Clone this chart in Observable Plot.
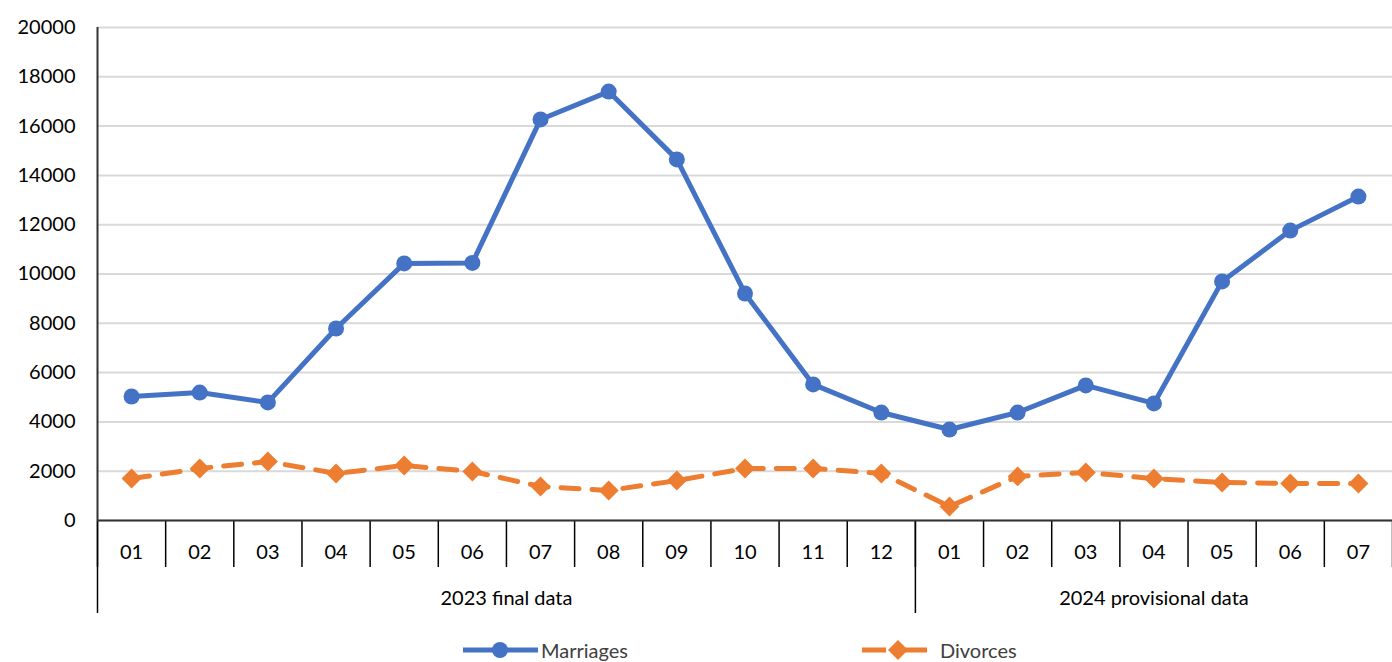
<!DOCTYPE html>
<html>
<head>
<meta charset="utf-8">
<script src="https://cdn.jsdelivr.net/npm/d3@7"></script>
<script src="https://cdn.jsdelivr.net/npm/@observablehq/plot@0.6"></script>
<style>
  html, body { margin: 0; padding: 0; background: #fff; overflow: hidden; }
  body { font-family: Lato, "Open Sans", sans-serif; color: #000; }
  #legend { position: relative; width: 1392px; height: 24px; font-size: 20px; color: #404040; }
  .item { position: absolute; top: 0; height: 24px; line-height: 24px; white-space: nowrap; }
  .item svg { position: absolute; top: 0; left: 0; }
</style>
</head>
<body>
<div id="chart"></div>
<div id="legend"></div>
<script>
const months = ["01","02","03","04","05","06","07","08","09","10","11","12","01","02","03","04","05","06","07"];
const groups = ["2023 final data","2023 final data","2023 final data","2023 final data","2023 final data","2023 final data","2023 final data","2023 final data","2023 final data","2023 final data","2023 final data","2023 final data","2024 provisional data","2024 provisional data","2024 provisional data","2024 provisional data","2024 provisional data","2024 provisional data","2024 provisional data"];
const marriages = [5030, 5190, 4790, 7790, 10430, 10450, 16270, 17400, 14650, 9210, 5520, 4380, 3690, 4380, 5480, 4750, 9700, 11760, 13140];
const divorces = [1700, 2110, 2390, 1910, 2230, 1990, 1380, 1220, 1620, 2110, 2110, 1910, 570, 1790, 1950, 1700, 1540, 1500, 1500];
const yTicks = [0, 2000, 4000, 6000, 8000, 10000, 12000, 14000, 16000, 18000, 20000];
const seriesNames = ["Marriages", "Divorces"];
const colors = ["#4472C4", "#ED7D31"];

const data = months.map((m, i) => ({i, month: m, group: groups[i], marriages: marriages[i], divorces: divorces[i]}));
const n = months.length;
const indices = d3.range(n);
const boundaries = d3.range(n + 1).map(k => k - 0.5);
const groupNames = Array.from(new Set(groups));
const groupEdges = groupNames.map(g => groups.indexOf(g) - 0.5);
const groupCenters = groupNames.map(g => {
  const idx = indices.filter(i => groups[i] === g);
  return (idx[0] + idx[idx.length - 1]) / 2;
});
const groupLabel = new Map(groupCenters.map((c, k) => [c, groupNames[k]]));

const chart = Plot.plot({
  width: 1392,
  height: 638,
  marginTop: 27,
  marginBottom: 118,
  marginLeft: 97,
  marginRight: 0,
  style: {fontFamily: "Lato, 'Open Sans', sans-serif", fontSize: "20px", color: "#000", background: "#fff", overflow: "visible"},
  x: {type: "linear", domain: [-0.5, n - 0.5], axis: null},
  y: {domain: [0, 20000], axis: null},
  marks: [
    Plot.gridY(yTicks, {stroke: "#d9d9d9", strokeOpacity: 1, strokeWidth: 2}),
    Plot.axisY(yTicks, {label: null, tickSize: 0, tickPadding: 22, fontSize: 20, tickFormat: d => String(d), fill: "#000"}),
    Plot.axisX(boundaries, {label: null, tickSize: 47, tickFormat: () => "", stroke: "#000", strokeWidth: 1.5}),
    Plot.axisX(groupEdges, {label: null, tickSize: 93, tickFormat: () => "", stroke: "#000", strokeWidth: 1.5}),
    Plot.axisX(indices, {label: null, tickSize: 0, tickPadding: 24, fontSize: 20, tickFormat: i => months[i], fill: "#000"}),
    Plot.axisX(groupCenters, {label: null, tickSize: 0, tickPadding: 70, fontSize: 20, tickFormat: c => groupLabel.get(c), fill: "#000"}),
    Plot.ruleY([0], {stroke: "#333", strokeWidth: 2}),
    Plot.ruleX([-0.5], {stroke: "#333", strokeWidth: 2}),
    Plot.line(data, {x: "i", y: "divorces", stroke: colors[1], strokeWidth: 5, strokeDasharray: "18,13"}),
    Plot.dot(data, {x: "i", y: "divorces", fill: colors[1], symbol: "diamond2", r: 9}),
    Plot.line(data, {x: "i", y: "marriages", stroke: colors[0], strokeWidth: 5}),
    Plot.dot(data, {x: "i", y: "marriages", fill: colors[0], symbol: "circle", r: 8})
  ]
});
document.getElementById("chart").appendChild(chart);

// Legend
const legend = document.getElementById("legend");
const legendItems = [
  {name: seriesNames[0], color: colors[0], left: 463, lineW: 75, marker: 37, textLeft: 78, dash: null, symbol: "circle"},
  {name: seriesNames[1], color: colors[1], left: 862, lineW: 65, marker: 36, textLeft: 78, dash: "24,17", symbol: "diamond"}
];
legendItems.forEach(it => {
  const div = document.createElement("div");
  div.className = "item";
  div.style.left = it.left + "px";
  div.style.paddingLeft = it.textLeft + "px";
  const marker = it.symbol === "circle"
    ? `<circle cx="${it.marker}" cy="12" r="8" fill="${it.color}"/>`
    : `<path d="M${it.marker},2 L${it.marker + 10},12 L${it.marker},22 L${it.marker - 10},12 Z" fill="${it.color}"/>`;
  div.innerHTML = `<svg width="${it.lineW + 2}" height="24"><line x1="0" x2="${it.lineW}" y1="12" y2="12" stroke="${it.color}" stroke-width="5" ${it.dash ? `stroke-dasharray="${it.dash}"` : ""}/>${marker}</svg>${it.name}`;
  legend.appendChild(div);
});
</script>
</body>
</html>
